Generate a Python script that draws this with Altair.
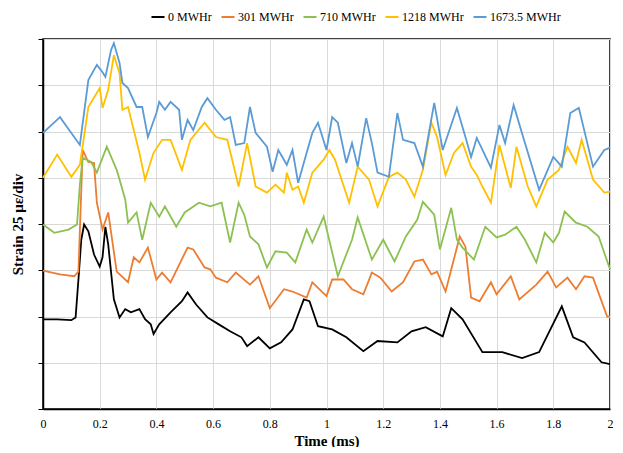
import altair as alt
import pandas as pd

series_names = ["0 MWHr", "301 MWHr", "710 MWHr", "1218 MWHr", "1673.5 MWHr"]
series_colors = ["#000000", "#ED7D31", "#8CC152", "#FFC000", "#5B9BD5"]

t_0 = [0.00, 0.05, 0.10, 0.115, 0.125, 0.135, 0.145, 0.16, 0.18, 0.20, 0.21, 0.22, 0.23, 0.25, 0.27, 0.29, 0.31, 0.34, 0.36, 0.38, 0.39, 0.41, 0.45, 0.49, 0.51, 0.54, 0.58, 0.62, 0.66, 0.70, 0.72, 0.76, 0.80, 0.84, 0.88, 0.92, 0.94, 0.97, 1.02, 1.07, 1.13, 1.18, 1.25, 1.30, 1.35, 1.41, 1.44, 1.48, 1.55, 1.62, 1.69, 1.75, 1.83, 1.87, 1.91, 1.97, 2.00]
v_0 = [1.94, 1.94, 1.92, 1.98, 2.80, 3.66, 3.99, 3.84, 3.34, 3.08, 3.28, 3.94, 3.56, 2.37, 1.98, 2.16, 2.09, 2.16, 1.94, 1.83, 1.62, 1.83, 2.09, 2.33, 2.52, 2.26, 1.98, 1.83, 1.68, 1.55, 1.36, 1.55, 1.31, 1.44, 1.72, 2.37, 2.33, 1.79, 1.72, 1.55, 1.25, 1.47, 1.44, 1.68, 1.77, 1.57, 2.18, 1.94, 1.23, 1.23, 1.10, 1.23, 2.22, 1.55, 1.44, 1.01, 0.97]

t_301 = [0.00, 0.06, 0.11, 0.125, 0.14, 0.16, 0.18, 0.19, 0.21, 0.23, 0.26, 0.30, 0.32, 0.34, 0.37, 0.40, 0.42, 0.45, 0.51, 0.53, 0.57, 0.59, 0.61, 0.65, 0.68, 0.73, 0.76, 0.80, 0.85, 0.88, 0.93, 0.95, 1.00, 1.02, 1.06, 1.09, 1.13, 1.16, 1.19, 1.23, 1.27, 1.31, 1.34, 1.37, 1.39, 1.42, 1.47, 1.49, 1.51, 1.54, 1.58, 1.60, 1.65, 1.68, 1.74, 1.78, 1.81, 1.85, 1.88, 1.91, 1.94, 1.99, 2.00]
v_301 = [2.99, 2.91, 2.87, 2.97, 5.60, 5.34, 5.32, 4.46, 3.88, 4.25, 2.97, 2.74, 3.28, 3.17, 3.49, 2.80, 2.95, 2.74, 3.49, 3.45, 3.06, 3.02, 2.84, 2.74, 2.95, 2.69, 2.87, 2.18, 2.59, 2.54, 2.41, 2.74, 2.44, 2.80, 2.80, 2.59, 2.48, 2.95, 2.84, 2.54, 2.74, 3.19, 3.23, 2.91, 2.97, 2.54, 3.73, 3.51, 2.41, 2.33, 2.74, 2.48, 2.87, 2.37, 2.69, 2.97, 2.63, 2.84, 2.59, 2.87, 2.84, 2.00, 2.00]

t_710 = [0.00, 0.04, 0.09, 0.12, 0.13, 0.14, 0.17, 0.19, 0.225, 0.26, 0.27, 0.29, 0.30, 0.33, 0.35, 0.38, 0.41, 0.43, 0.47, 0.50, 0.55, 0.59, 0.63, 0.66, 0.69, 0.71, 0.73, 0.76, 0.79, 0.82, 0.86, 0.89, 0.93, 0.95, 0.99, 1.04, 1.09, 1.11, 1.16, 1.20, 1.24, 1.28, 1.32, 1.34, 1.38, 1.40, 1.44, 1.46, 1.48, 1.52, 1.56, 1.60, 1.63, 1.67, 1.70, 1.74, 1.77, 1.80, 1.82, 1.84, 1.88, 1.92, 1.96, 2.00]
v_710 = [3.99, 3.81, 3.88, 3.99, 4.85, 5.43, 5.34, 5.11, 5.67, 5.17, 4.96, 4.53, 4.03, 4.25, 3.66, 4.46, 4.16, 4.38, 3.94, 4.25, 4.46, 4.38, 4.46, 3.60, 4.46, 4.20, 3.73, 3.56, 3.06, 3.41, 3.38, 3.17, 3.88, 3.60, 4.16, 2.87, 3.66, 4.14, 3.23, 3.66, 3.19, 3.73, 4.09, 4.48, 4.20, 3.45, 4.35, 3.66, 3.49, 3.23, 3.94, 3.71, 3.77, 3.94, 3.66, 3.17, 3.81, 3.60, 3.81, 4.27, 4.03, 3.94, 3.73, 3.02]

t_1218 = [0.00, 0.05, 0.10, 0.13, 0.16, 0.20, 0.21, 0.23, 0.25, 0.27, 0.28, 0.30, 0.34, 0.36, 0.39, 0.42, 0.45, 0.49, 0.52, 0.57, 0.61, 0.65, 0.69, 0.72, 0.75, 0.79, 0.82, 0.85, 0.86, 0.88, 0.90, 0.92, 0.95, 0.99, 1.01, 1.03, 1.08, 1.11, 1.15, 1.18, 1.22, 1.25, 1.28, 1.31, 1.34, 1.37, 1.39, 1.42, 1.45, 1.48, 1.51, 1.53, 1.55, 1.58, 1.61, 1.65, 1.67, 1.71, 1.74, 1.78, 1.82, 1.85, 1.88, 1.90, 1.94, 1.98, 2.00]
v_1218 = [5.00, 5.50, 5.02, 5.28, 6.53, 6.94, 6.51, 6.90, 7.65, 7.26, 6.47, 6.53, 5.54, 4.96, 5.54, 5.82, 5.82, 5.17, 5.82, 6.19, 5.88, 5.82, 4.81, 5.75, 4.81, 4.68, 4.85, 4.68, 5.11, 4.74, 4.81, 4.46, 5.11, 5.39, 5.60, 5.39, 4.46, 5.24, 4.96, 4.38, 5.02, 5.11, 4.96, 4.59, 5.17, 6.19, 5.88, 5.06, 5.54, 5.75, 5.24, 5.06, 4.81, 4.46, 5.71, 4.78, 5.67, 4.81, 4.38, 4.96, 5.17, 5.67, 5.32, 5.82, 4.96, 4.68, 4.70]

t_1673 = [0.00, 0.06, 0.13, 0.16, 0.19, 0.21, 0.22, 0.24, 0.25, 0.27, 0.28, 0.30, 0.33, 0.35, 0.37, 0.40, 0.41, 0.43, 0.45, 0.48, 0.49, 0.51, 0.53, 0.56, 0.58, 0.61, 0.64, 0.66, 0.68, 0.71, 0.73, 0.75, 0.79, 0.81, 0.83, 0.86, 0.88, 0.90, 0.95, 0.97, 1.00, 1.02, 1.04, 1.07, 1.09, 1.11, 1.14, 1.16, 1.18, 1.22, 1.25, 1.27, 1.31, 1.34, 1.38, 1.41, 1.46, 1.49, 1.51, 1.53, 1.58, 1.61, 1.63, 1.66, 1.70, 1.75, 1.80, 1.83, 1.86, 1.89, 1.94, 1.98, 2.00]
v_1673 = [5.97, 6.31, 5.71, 7.11, 7.44, 7.28, 7.18, 7.76, 7.91, 7.48, 7.05, 6.94, 6.53, 6.53, 5.88, 6.40, 6.64, 6.47, 6.64, 6.47, 5.82, 6.25, 6.03, 6.53, 6.72, 6.47, 6.25, 6.31, 5.71, 5.75, 6.53, 5.97, 5.67, 5.13, 5.60, 5.28, 5.60, 4.89, 5.97, 6.19, 5.60, 6.31, 6.19, 5.32, 5.75, 5.24, 6.29, 5.75, 5.11, 5.02, 6.40, 5.82, 5.75, 5.24, 6.62, 5.60, 6.51, 5.88, 5.45, 5.86, 5.22, 6.14, 5.75, 6.57, 5.75, 4.74, 5.45, 5.24, 6.40, 6.51, 5.24, 5.60, 5.65]

x_ticks = [0, 0.2, 0.4, 0.6, 0.8, 1, 1.2, 1.4, 1.6, 1.8, 2]
y_ticks = [0, 1, 2, 3, 4, 5, 6, 7, 8]

frames = []
for i, (name, ts, vs) in enumerate(zip(series_names,
                                       [t_0, t_301, t_710, t_1218, t_1673],
                                       [v_0, v_301, v_710, v_1218, v_1673])):
    frames.append(pd.DataFrame({"t": ts, "v": vs, "series": name, "k": i}))
df = pd.concat(frames, ignore_index=True)

serif = "Liberation Serif"

chart = alt.Chart(df).mark_line(strokeWidth=1.8).encode(
    x=alt.X("t:Q", scale=alt.Scale(domain=[0, 2], nice=False),
            axis=alt.Axis(values=x_ticks, title="Time (ms)", ticks=False,
                          labelPadding=9, titlePadding=4, labelFlush=False,
                          format="~g")),
    y=alt.Y("v:Q", scale=alt.Scale(domain=[0, 8], nice=False),
            axis=alt.Axis(values=y_ticks, labels=False, title="Strain 25 με/div",
                          tickSize=5, titlePadding=12)),
    color=alt.Color("series:N",
                    scale=alt.Scale(domain=series_names, range=series_colors),
                    legend=alt.Legend(title=None, orient="none", direction="horizontal",
                                      legendX=107, legendY=-30,
                                      symbolType="stroke", symbolStrokeWidth=2,
                                      symbolSize=170, labelFont=serif,
                                      labelFontSize=12, labelColor="#000000",
                                      columnPadding=5, labelOffset=2)),
    detail="k:O",
    order="t:Q",
).properties(
    width=567, height=370,
    autosize=alt.AutoSizeParams(type="none"),
    padding={"left": 35, "top": 31, "right": 5, "bottom": 38},
).configure_view(
    stroke="#000000", strokeWidth=1.5
).configure_axis(
    gridColor="#d9d9d9", gridWidth=1, domainColor="#000000", domainWidth=1.5,
    tickColor="#000000", labelFont=serif, labelFontSize=12, labelColor="#000000",
    titleFont=serif, titleFontSize=15, titleFontWeight="bold", titleColor="#000000",
)

chart.save("out.html", embed_options={"renderer": "svg", "actions": False})
